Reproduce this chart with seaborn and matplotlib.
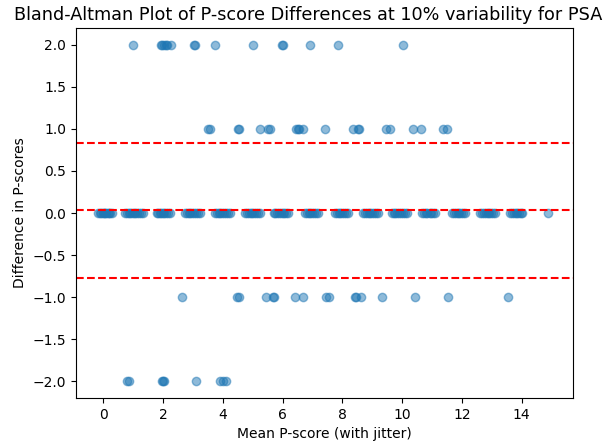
import numpy as np
import pandas as pd
import matplotlib
matplotlib.use("Agg")
import matplotlib.pyplot as plt
import seaborn as sns

# Mean of the two P-scores (jittered) for each difference level
mean_diff_0 = [
    -0.16, -0.11, -0.06, -0.02, 0.02, 0.06, 0.10, 0.15, 0.20, 0.24, 0.28,
    0.73, 0.79, 0.85, 0.91, 0.97, 1.02, 1.08, 1.14, 1.20, 1.27, 1.34,
    1.79, 1.84, 1.90, 1.95, 2.00, 2.05, 2.10, 2.16, 2.23,
    2.74, 2.80, 2.86, 2.92, 2.98, 3.04, 3.10, 3.17, 3.24,
    3.74, 3.80, 3.86, 3.92, 3.98, 4.04, 4.10, 4.17, 4.24,
    4.75, 4.81, 4.87, 4.93, 4.99, 5.05, 5.11, 5.18, 5.25,
    5.70, 5.76, 5.82, 5.88, 5.94, 6.00, 6.06, 6.13, 6.20,
    6.75, 6.81, 6.87, 6.93, 6.99, 7.05, 7.12, 7.20,
    7.76, 7.82, 7.88, 7.94, 8.00, 8.07, 8.13, 8.20,
    8.70, 8.76, 8.82, 8.88, 8.94, 9.00, 9.07, 9.13, 9.20,
    9.66, 9.72, 9.78, 9.84, 9.90, 9.96, 10.03, 10.10, 10.17,
    10.67, 10.73, 10.79, 10.85, 10.92, 10.98, 11.04, 11.10,
    11.68, 11.74, 11.80, 11.86, 11.92, 11.98, 12.05, 12.10,
    12.62, 12.68, 12.74, 12.80, 12.86, 12.92, 12.98, 13.05, 13.12,
    13.62, 13.68, 13.74, 13.80, 13.86, 13.92, 13.97, 14.02,
    14.88,
]
mean_diff_pos1 = [3.52, 3.56, 4.51, 4.53, 5.26, 5.52, 5.57, 6.45, 6.52, 6.56, 6.68,
                  7.43, 8.36, 8.54, 8.56, 9.47, 9.58, 10.37, 10.63, 11.38, 11.50]
mean_diff_pos2 = [0.99, 1.92, 1.97, 2.03, 2.09, 2.15, 2.27, 3.04, 3.07, 3.75,
                  5.01, 5.98, 6.02, 6.93, 7.86, 10.02]
mean_diff_neg1 = [2.63, 4.47, 4.53, 5.46, 5.69, 5.72, 6.42, 6.68, 7.47, 7.55,
                  8.44, 8.47, 8.63, 9.32, 10.42, 11.53, 13.55]
mean_diff_neg2 = [0.78, 0.85, 1.97, 2.00, 2.03, 3.11, 3.91, 4.01, 4.10]

diff_levels = [0, 1, 2, -1, -2]

# Agreement statistics
bias = 0.03
upper_loa = 0.835
lower_loa = -0.775

groups = [mean_diff_0, mean_diff_pos1, mean_diff_pos2, mean_diff_neg1, mean_diff_neg2]
df = pd.DataFrame({
    "mean": np.concatenate(groups),
    "diff": np.concatenate([[lvl] * len(g) for lvl, g in zip(diff_levels, groups)]),
})

fig = plt.figure(figsize=(6.08, 4.46), dpi=100)
ax = fig.add_axes([76 / 608, (446 - 398) / 446, 497 / 608, 370 / 446])

sns.scatterplot(data=df, x="mean", y="diff", ax=ax, color="#1f77b4",
                alpha=0.5, s=36, edgecolor="#1f77b4", linewidth=1)

ax.axhline(bias, color="red", linestyle="--", linewidth=1.5)
ax.axhline(upper_loa, color="red", linestyle="--", linewidth=1.5)
ax.axhline(lower_loa, color="red", linestyle="--", linewidth=1.5)

ax.set_xlim(-0.91, 15.72)
ax.set_ylim(-2.2, 2.2)
ax.set_xticks([0, 2, 4, 6, 8, 10, 12, 14])
ax.set_yticks([-2.0, -1.5, -1.0, -0.5, 0.0, 0.5, 1.0, 1.5, 2.0])
ax.set_yticklabels(["\u22122.0", "\u22121.5", "\u22121.0", "\u22120.5", "0.0", "0.5", "1.0", "1.5", "2.0"])

ax.set_title("Bland-Altman Plot of P-score Differences at 10% variability for PSA",
             fontsize=12.7, x=0.468)
ax.set_xlabel("Mean P-score (with jitter)")
ax.set_ylabel("Difference in P-scores")

fig.savefig("out.png", dpi=100)
